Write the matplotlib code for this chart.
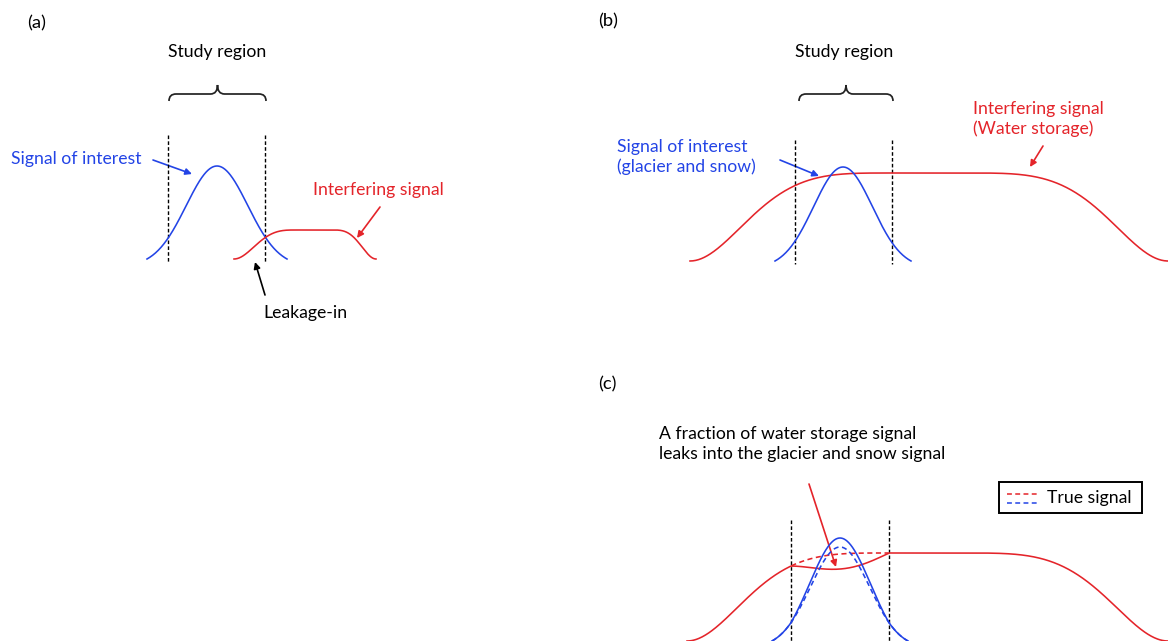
import math
import numpy as np
import matplotlib
matplotlib.use("Agg")
import matplotlib.pyplot as plt
from matplotlib.path import Path
from matplotlib.patches import PathPatch, FancyArrowPatch, Rectangle

# ---------------------------------------------------------------------------
# Schematic parameters (canvas pixels, y grows downward)
# ---------------------------------------------------------------------------
panel_labels = ["(a)", "(b)", "(c)"]
panel_label_xy = [(37, 23), (608, 21), (607, 384)]

# study-region boundaries per panel: left, right, top of dashed line, bottom
region_a = [168, 265, 135, 262]
region_b = [795, 892, 140, 264]
region_c = [791, 889, 520, 641]

# baselines of the signal profiles
baseline_a = 259
baseline_b = 261
baseline_c = 641

# signal of interest (bell shape): centre, amplitude, width, half-span
blue_a = [217, 93, 30.8, 70]
blue_b = [843, 94, 29.5, 68]
blue_c = [840, 94, 29.5, 68]

# interfering signal (flat-topped): start, plateau start, plateau end, end,
# amplitude, shoulder exponent
red_a = [234, 295, 333, 376, 29, 1.5]
red_b = [690, 895, 962, 1168, 88, 1.95]
red_c = [687, 892, 959, 1168, 88, 1.95]

# leakage moved from the interfering signal into the signal of interest
leak_from_red = 15
leak_into_blue = 9

BLUE = "#2344e6"
RED = "#e4242a"
FONT = ["Lato", "DejaVu Sans"]
FS = 12.7


def bell(x, centre, amp, width, half_span):
    g = np.exp(-(x - centre) ** 2 / (2 * width ** 2))
    g_end = math.exp(-half_span ** 2 / (2 * width ** 2))
    return amp * (g - g_end) / (1 - g_end)


def plateau(x, start, top_left, top_right, end, amp, q):
    s_up = np.clip((top_left - x) / (top_left - start), 0, 1)
    s_dn = np.clip((x - top_right) / (end - top_right), 0, 1)
    up = np.cos(np.pi / 2 * s_up ** q) ** 2
    dn = np.cos(np.pi / 2 * s_dn ** q) ** 2
    return amp * up * dn


def region_hump(x, region):
    left, right = region[0], region[1]
    t = np.clip((x - left) / (right - left), 0, 1)
    return np.sin(np.pi * t)


fig = plt.figure(figsize=(11.68, 6.41), dpi=100)
ax = fig.add_axes([0, 0, 1, 1])
ax.set_xlim(0, 1168)
ax.set_ylim(641, 0)
ax.axis("off")

LW = 1.15


def text(x, y, s, color="black", size=FS, ha="left"):
    ax.text(x, y, s, color=color, fontsize=size, ha=ha, va="center",
            family=FONT, linespacing=1.32)


def arrow(start, end, color):
    ax.add_patch(FancyArrowPatch(start, end, arrowstyle="-|>",
                                 mutation_scale=9.5, lw=1.2, color=color,
                                 shrinkA=0, shrinkB=0))


def region_lines(region):
    for xv in region[:2]:
        ax.plot([xv, xv], [region[2], region[3]], color="black", lw=1.0,
                dashes=(2.6, 1.6), solid_capstyle="butt")


def brace(x0, x1, y_bottom, y_top):
    xm = (x0 + x1) / 2
    ym = (y_bottom + y_top) / 2 + 1
    r = 7
    verts = [(x0, y_bottom), (x0, ym), (x0 + r, ym),
             (xm - r, ym), (xm, ym), (xm, y_top),
             (xm, ym), (xm + r, ym),
             (x1 - r, ym), (x1, ym), (x1, y_bottom)]
    codes = [Path.MOVETO, Path.CURVE3, Path.CURVE3,
             Path.LINETO, Path.CURVE3, Path.CURVE3,
             Path.CURVE3, Path.CURVE3,
             Path.LINETO, Path.CURVE3, Path.CURVE3]
    ax.add_patch(PathPatch(Path(verts, codes), fill=False, lw=1.25,
                           color="#222222"))


for label, (lx, ly) in zip(panel_labels, panel_label_xy):
    text(lx, ly, label, ha="center", size=13.2)

# ---------------------------- panel (a) ----------------------------------
text(217, 52, "Study region", ha="center")
brace(169, 266, 101, 85)
region_lines(region_a)

xa = np.linspace(blue_a[0] - blue_a[3], blue_a[0] + blue_a[3], 300)
ax.plot(xa, baseline_a - bell(xa, *blue_a), color=BLUE, lw=LW)
xr = np.linspace(red_a[0], red_a[3], 300)
ax.plot(xr, baseline_a - plateau(xr, *red_a), color=RED, lw=LW)

text(11, 159, "Signal of interest", color=BLUE)
arrow((153, 160), (192, 174), BLUE)
text(313, 190, "Interfering signal", color=RED)
arrow((380, 207), (357, 238), RED)
text(263, 313, "Leakage-in")
arrow((265, 295), (255, 262), "black")

# ---------------------------- panel (b) ----------------------------------
text(844, 52, "Study region", ha="center")
brace(799, 893, 101, 85)
region_lines(region_b)

xb = np.linspace(red_b[0], red_b[3], 500)
ax.plot(xb, baseline_b - plateau(xb, *red_b), color=RED, lw=LW)
xbb = np.linspace(blue_b[0] - blue_b[3], blue_b[0] + blue_b[3], 300)
ax.plot(xbb, baseline_b - bell(xbb, *blue_b), color=BLUE, lw=LW)

text(617, 157, "Signal of interest\n(glacier and snow)", color=BLUE)
arrow((780, 160), (819, 176), BLUE)
text(973, 119, "Interfering signal\n(Water storage)", color=RED)
arrow((1043, 146), (1030, 167), RED)

# ---------------------------- panel (c) ----------------------------------
region_lines(region_c)

xc = np.linspace(red_c[0], red_c[3], 600)
red_true = plateau(xc, *red_c)
red_seen = red_true - leak_from_red * region_hump(xc, region_c)
ax.plot(xc, baseline_c - red_seen, color=RED, lw=LW)

inside = (xc >= region_c[0]) & (xc <= region_c[1])
ax.plot(xc[inside], baseline_c - red_true[inside], color=RED, lw=LW,
        dashes=(3.2, 2.2))

xcb = np.linspace(blue_c[0] - blue_c[3], blue_c[0] + blue_c[3], 300)
blue_true = bell(xcb, *blue_c)
blue_seen = blue_true + leak_into_blue * region_hump(xcb, region_c)
ax.plot(xcb, baseline_c - blue_seen, color=BLUE, lw=LW)
ax.plot(xcb, baseline_c - blue_true, color=BLUE, lw=LW, dashes=(3.2, 2.2))

text(659, 444, "A fraction of water storage signal\nleaks into the glacier and snow signal")
arrow((809, 484), (836, 567), RED)

# legend box for the true (unmixed) signals
ax.add_patch(Rectangle((999, 482), 143, 31, fill=False, lw=1.4,
                       edgecolor="black"))
ax.plot([1007, 1039], [494, 494], color=RED, lw=1.1, dashes=(3.2, 2.2))
ax.plot([1007, 1039], [503, 503], color=BLUE, lw=1.1, dashes=(3.2, 2.2))
text(1047, 498, "True signal")

fig.savefig("out.png", dpi=100)
